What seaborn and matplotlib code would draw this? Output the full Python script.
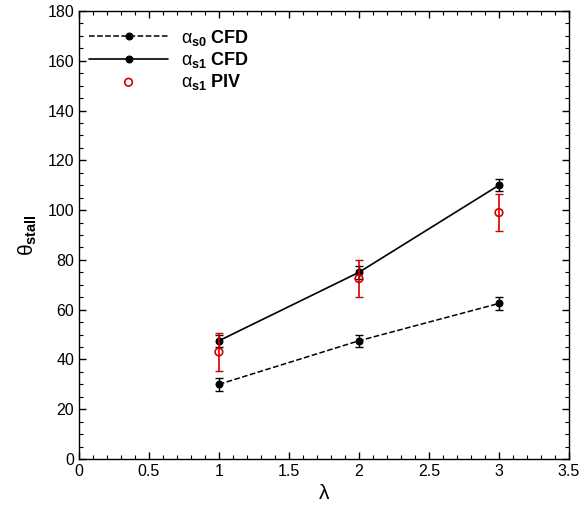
import matplotlib
matplotlib.use("Agg")
import matplotlib.pyplot as plt
import seaborn as sns
import pandas as pd
from matplotlib.ticker import MultipleLocator

sns.set_theme(style="ticks")
plt.rcParams['font.family'] = ['Liberation Sans', 'DejaVu Sans']
plt.rcParams['text.color'] = 'black'
plt.rcParams['axes.labelcolor'] = 'black'
plt.rcParams['mathtext.fontset'] = 'custom'
plt.rcParams['mathtext.rm'] = 'Liberation Sans'
plt.rcParams['mathtext.it'] = 'Liberation Sans'
plt.rcParams['mathtext.bf'] = 'Liberation Sans:bold'

lam = [1, 2, 3]
s0_cfd = [30, 47.5, 62.5]
s0_err = [2.5, 2.5, 2.5]
s1_cfd = [47.5, 75, 110]
s1_err = [2.5, 2.5, 2.5]
s1_piv = [43, 72.5, 99]
piv_err = [7.5, 7.5, 7.5]

df0 = pd.DataFrame({"lam": lam, "theta": s0_cfd})
df1 = pd.DataFrame({"lam": lam, "theta": s1_cfd})
df2 = pd.DataFrame({"lam": lam, "theta": s1_piv})

fig = plt.figure(figsize=(5.8, 5.17), dpi=100)
ax = fig.add_axes([0.136, 0.1122, 0.845, 0.8665])

sns.lineplot(data=df0, x="lam", y="theta", ax=ax, color="black", linestyle="--", lw=1.1,
             marker="o", markersize=5, markeredgecolor="black", label="$\\alpha_{\\mathbf{s0}}$ CFD")
sns.lineplot(data=df1, x="lam", y="theta", ax=ax, color="black", linestyle="-", lw=1.2,
             marker="o", markersize=5, markeredgecolor="black", label="$\\alpha_{\\mathbf{s1}}$ CFD")
sns.scatterplot(data=df2, x="lam", y="theta", ax=ax, marker="o", s=30, facecolor="none",
                edgecolor="#d40000", linewidth=1.2, label="$\\alpha_{\\mathbf{s1}}$ PIV", zorder=4)

ax.errorbar(lam, s0_cfd, yerr=s0_err, fmt="none", ecolor="black", elinewidth=1, capsize=3)
ax.errorbar(lam, s1_cfd, yerr=s1_err, fmt="none", ecolor="black", elinewidth=1, capsize=3)
ax.errorbar(lam, s1_piv, yerr=piv_err, fmt="none", ecolor="#d40000", elinewidth=1.2, capsize=3)

ax.set_xlim(0, 3.5)
ax.set_ylim(0, 180)
ax.xaxis.set_minor_locator(MultipleLocator(0.1))
ax.yaxis.set_major_locator(MultipleLocator(20))
ax.yaxis.set_minor_locator(MultipleLocator(5))
ax.set_xticks([0, 0.5, 1, 1.5, 2, 2.5, 3, 3.5])
ax.set_xticklabels(["0", "0.5", "1", "1.5", "2", "2.5", "3", "3.5"])
ax.tick_params(which="both", direction="in", top=True, right=True, labelsize=11.5, colors="black")
ax.tick_params(which="major", length=5, width=1)
ax.tick_params(which="minor", length=3, width=0.8)
for sp in ax.spines.values():
    sp.set_color("black")
    sp.set_linewidth(1)

ax.set_xlabel("λ", fontsize=15, labelpad=4)
ax.set_ylabel("θ$_{\\mathbf{stall}}$", fontsize=15, labelpad=6)

leg = ax.legend(loc="upper left", frameon=False, fontsize=13, handlelength=4.4,
                bbox_to_anchor=(0.0, 0.985), borderaxespad=0.15, labelspacing=0.12,
                handletextpad=0.7)
for t in leg.get_texts():
    t.set_fontweight("bold")
    t.set_color("black")

fig.savefig("out.png", dpi=100)
